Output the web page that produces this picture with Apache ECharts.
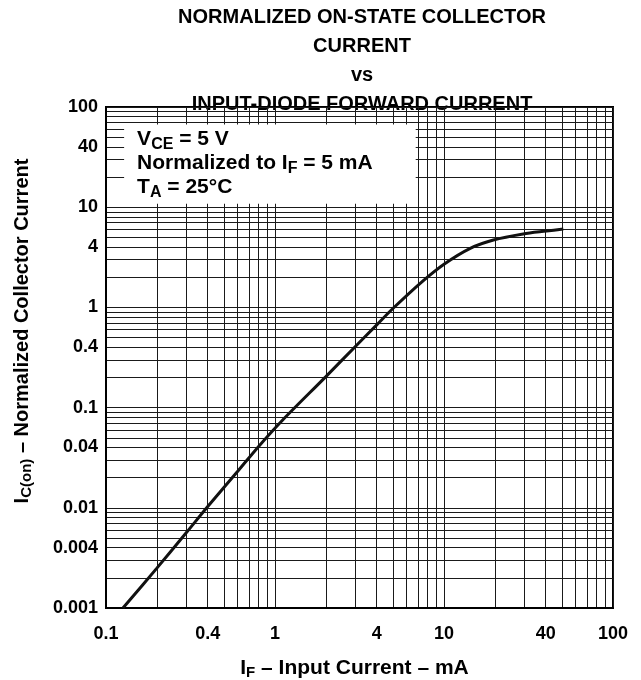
<!DOCTYPE html>
<html>
<head>
<meta charset="utf-8">
<title>Normalized On-State Collector Current vs Input-Diode Forward Current</title>
<script src="https://cdn.jsdelivr.net/npm/echarts@6/dist/echarts.min.js"></script>
<style>
  html, body { margin: 0; padding: 0; background: #fff; }
  #chart { width: 641px; height: 680px; }
</style>
</head>
<body>
<div id="chart"></div>
<script>
// IF (mA) and normalized IC(on)
var inputCurrent = [0.126, 0.2, 0.3, 0.4, 0.6, 0.8, 1.1, 2, 3, 4, 5, 7.4, 10, 14.3, 19.6, 29.4, 40.4, 50.8];
var collectorCurrent = [0.001, 0.0025, 0.0057, 0.0103, 0.023, 0.041, 0.074, 0.204, 0.41, 0.67, 0.98, 1.8, 2.7, 3.89, 4.71, 5.41, 5.78, 6.05];

var xLabels = [0.1, 0.4, 1, 4, 10, 40, 100];
var yLabels = [0.001, 0.004, 0.01, 0.04, 0.1, 0.4, 1, 4, 10, 40, 100];
var xDecades = [0.1, 1, 10];
var yDecades = [0.001, 0.01, 0.1, 1, 10];
var steps = [1, 2, 3, 4, 5, 6, 7, 8, 9];

// white box behind the test conditions (data units)
var noteBox = [[0.128, 67], [6.8, 10.8]];

var FONT = '"Liberation Sans", Arial, sans-serif';

function gridValues(decades, top) {
	var out = [];
	decades.forEach(function (d) {
		steps.forEach(function (s) {
			out.push(+(d * s).toPrecision(6));
		});
	});
	out.push(top);
	return out;
}

function richText(size, sub, lh) {
	return {
		b: { fontFamily: FONT, fontWeight: 'bold', fontSize: size, color: '#000', lineHeight: lh },
		s: { fontFamily: FONT, fontWeight: 'bold', fontSize: sub, color: '#000', lineHeight: lh, padding: [Math.round(sub * 0.6), 0, 0, 0] }
	};
}

var chart = echarts.init(document.getElementById('chart'), null, { renderer: 'canvas' });

var labelStyle = {
	fontFamily: FONT,
	fontWeight: 'bold',
	fontSize: 18,
	color: '#000'
};

var option = {
	backgroundColor: '#fff',
	animation: false,
	grid: {
		left: 106,
		right: 28,
		top: 107,
		bottom: 72,
		outerBoundsMode: 'none',
		show: true,
		borderColor: '#000',
		borderWidth: 2
	},
	xAxis: {
		type: 'log',
		logBase: 10,
		min: 0.1,
		max: 100,
		axisLine: { show: true, lineStyle: { color: '#000', width: 2 } },
		axisTick: { show: false, customValues: gridValues(xDecades, 100) },
		splitLine: { show: true, lineStyle: { color: '#1a1a1a', width: 1 } },
		axisLabel: Object.assign({
			customValues: xLabels,
			margin: 17,
			formatter: function (v) { return String(v); }
		}, labelStyle),
		name: '{b|I}{s|F}{b| – Input Current – mA}',
		nameLocation: 'middle',
		nameGap: 47,
		nameTextStyle: { rich: richText(21, 15, 26), padding: [0, 10, 0, 0] }
	},
	yAxis: {
		type: 'log',
		logBase: 10,
		min: 0.001,
		max: 100,
		axisLine: { show: true, lineStyle: { color: '#000', width: 2 } },
		axisTick: { show: false, customValues: gridValues(yDecades, 100) },
		splitLine: { show: true, lineStyle: { color: '#1a1a1a', width: 1 } },
		axisLabel: Object.assign({
			customValues: yLabels,
			margin: 8,
			formatter: function (v) { return String(v); }
		}, labelStyle)
	},
	graphic: [
		{
			type: 'text',
			z: -1,
			x: 362,
			y: 3,
			style: {
				text: 'NORMALIZED ON-STATE COLLECTOR\nCURRENT\nvs\nINPUT-DIODE FORWARD CURRENT',
				fontFamily: FONT,
				fontWeight: 'bold',
				fontSize: 20,
				lineHeight: 29,
				fill: '#000',
				align: 'center',
				verticalAlign: 'top'
			}
		},
		{
			type: 'text',
			x: 22,
			y: 331,
			rotation: Math.PI / 2,
			style: {
				text: '{b|I}{s|C(on)}{b| – Normalized Collector Current}',
				rich: richText(20, 15, 24),
				align: 'center',
				verticalAlign: 'middle'
			}
		}
	],
	series: [{
		type: 'line',
		data: inputCurrent.map(function (x, i) { return [x, collectorCurrent[i]]; }),
		smooth: 0.3,
		symbol: 'none',
		lineStyle: { color: '#111', width: 3 },
		markArea: {
			silent: true,
			itemStyle: { color: '#fff' },
			label: {
				show: true,
				position: [13, 3],
				formatter: '{b|V}{s|CE}{b| = 5 V}\n{b|Normalized to I}{s|F}{b| = 5 mA}\n{b|T}{s|A}{b| = 25°C}',
				rich: richText(21, 16, 24)
			},
			data: [[{ coord: noteBox[0] }, { coord: noteBox[1] }]]
		}
	}]
};

chart.setOption(option);
</script>
</body>
</html>
